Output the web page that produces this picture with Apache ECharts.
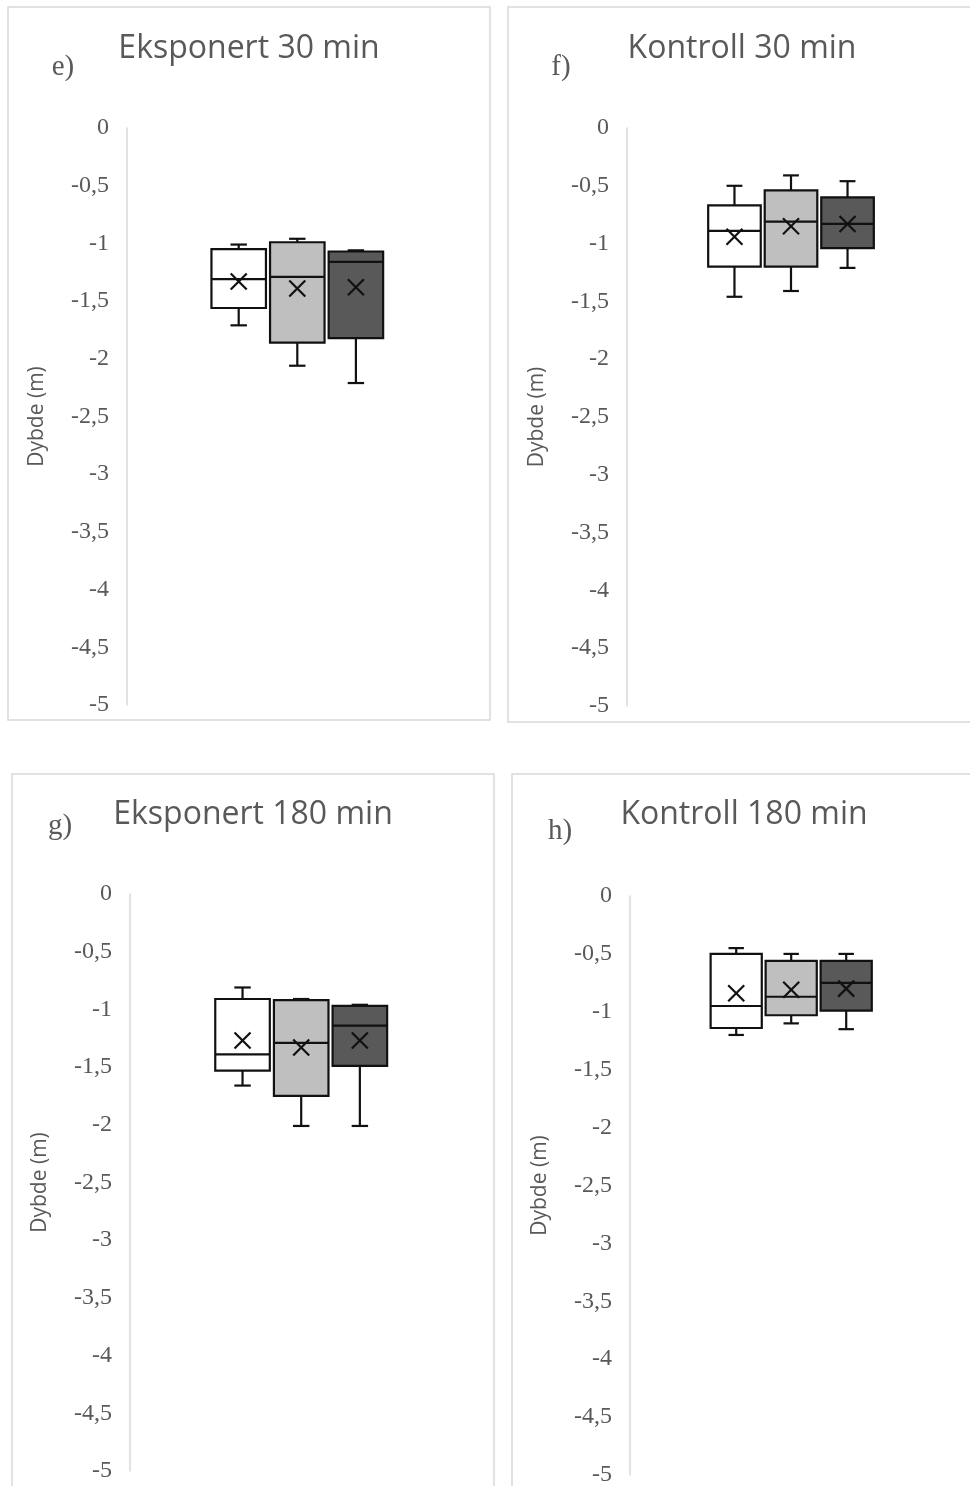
<!DOCTYPE html>
<html>
<head>
<meta charset="utf-8">
<script src="https://cdn.jsdelivr.net/npm/echarts@6/dist/echarts.min.js"></script>
<style>
  html, body { margin: 0; padding: 0; background: #ffffff; }
  #chart { width: 970px; height: 1486px; }
</style>
</head>
<body>
<div id="chart"></div>
<script>
// Three groups per panel, drawn left to right
const groups = ['Gruppe 1', 'Gruppe 2', 'Gruppe 3'];
const groupColors = ['#ffffff', '#bfbfbf', '#595959'];

// Each row: [lower whisker, Q1, median, Q3, upper whisker, mean] — depth in metres
const eksponert30 = [
  [-1.71, -1.56, -1.31, -1.05, -1.01, -1.33],
  [-2.06, -1.86, -1.29, -0.99, -0.96, -1.39],
  [-2.21, -1.82, -1.16, -1.07, -1.06, -1.38]
];
const kontroll30 = [
  [-1.46, -1.20, -0.89, -0.67, -0.50, -0.94],
  [-1.41, -1.20, -0.81, -0.54, -0.41, -0.85],
  [-1.21, -1.04, -0.83, -0.60, -0.46, -0.83]
];
const eksponert180 = [
  [-1.66, -1.53, -1.39, -0.91, -0.81, -1.27],
  [-2.01, -1.75, -1.29, -0.92, -0.91, -1.33],
  [-2.01, -1.49, -1.14, -0.97, -0.96, -1.27]
];
const kontroll180 = [
  [-1.20, -1.14, -0.95, -0.50, -0.45, -0.84],
  [-1.10, -1.03, -0.87, -0.56, -0.50, -0.81],
  [-1.15, -0.99, -0.75, -0.56, -0.50, -0.80]
];

// Depth axis ticks
const depthTicks = [0, -0.5, -1, -1.5, -2, -2.5, -3, -3.5, -4, -4.5, -5];

const panels = [
  { title: 'Eksponert 30 min', letter: 'e)', data: eksponert30,
    frame: [8, 7, 482, 713], titlePos: [249, 49], letterPos: [63, 67],
    grid: { left: 209.4, top: 128, width: 175.8, height: 577 }, axisX: 127 },
  { title: 'Kontroll 30 min', letter: 'f)', data: kontroll30,
    frame: [508, 7, 500, 715], titlePos: [742, 49], letterPos: [561, 67],
    grid: { left: 706.2, top: 128, width: 169.6, height: 578 }, axisX: 627 },
  { title: 'Eksponert 180 min', letter: 'g)', data: eksponert180,
    frame: [12, 774, 482, 760], titlePos: [253, 815], letterPos: [60, 826],
    grid: { left: 213.2, top: 894, width: 176, height: 577 }, axisX: 130 },
  { title: 'Kontroll 180 min', letter: 'h)', data: kontroll180,
    frame: [512, 774, 500, 760], titlePos: [744, 815], letterPos: [560, 831],
    grid: { left: 708.7, top: 896, width: 165, height: 579 }, axisX: 630 }
];

const ink = '#111111';
const textGrey = '#595959';

// Box, whiskers, median and mean cross for one group
function renderBox(params, api) {
  const i = api.value(0);
  const band = api.size([1, 0])[0];
  const half = band * 0.465;
  const cap = band * 0.14;
  const x = api.coord([i, 0])[0];
  const y = (dim) => api.coord([i, api.value(dim)])[1];
  const lo = y(1), q1 = y(2), med = y(3), q3 = y(4), hi = y(5), mean = y(6);
  const line = { stroke: ink, lineWidth: 2.2 };
  const m = 8;
  return {
    type: 'group',
    children: [
      { type: 'line', shape: { x1: x, y1: q1, x2: x, y2: lo }, style: line },
      { type: 'line', shape: { x1: x - cap, y1: lo, x2: x + cap, y2: lo }, style: line },
      { type: 'line', shape: { x1: x, y1: q3, x2: x, y2: hi }, style: line },
      { type: 'line', shape: { x1: x - cap, y1: hi, x2: x + cap, y2: hi }, style: line },
      { type: 'rect', shape: { x: x - half, y: q3, width: half * 2, height: q1 - q3 },
        style: { fill: groupColors[i], stroke: ink, lineWidth: 2.2 } },
      { type: 'line', shape: { x1: x - half, y1: med, x2: x + half, y2: med }, style: line },
      { type: 'line', shape: { x1: x - m, y1: mean - m, x2: x + m, y2: mean + m }, style: line },
      { type: 'line', shape: { x1: x - m, y1: mean + m, x2: x + m, y2: mean - m }, style: line }
    ]
  };
}

const grids = [], xAxes = [], yAxes = [], series = [], graphics = [];

panels.forEach((p, k) => {
  grids.push(Object.assign({ outerBoundsMode: 'none', containLabel: false }, p.grid));
  xAxes.push({
    type: 'category', gridIndex: k, data: groups, show: false
  });
  yAxes.push({
    type: 'value', gridIndex: k,
    min: Math.min(...depthTicks), max: Math.max(...depthTicks),
    interval: depthTicks[0] - depthTicks[1],
    offset: p.grid.left - p.axisX,
    axisLine: { show: true, lineStyle: { color: '#d9d9d9', width: 1.5 } },
    axisTick: { show: false },
    splitLine: { show: false },
    axisLabel: {
      margin: 18, color: textGrey, fontFamily: 'Liberation Serif', fontSize: 24,
      formatter: (v) => String(v).replace('.', ',')
    },
    name: 'Dybde (m)', nameLocation: 'middle', nameRotate: 90, nameGap: 79,
    nameTextStyle: { fontFamily: 'Open Sans', fontSize: 21, color: textGrey }
  });
  series.push({
    type: 'custom', xAxisIndex: k, yAxisIndex: k,
    data: p.data.map((row, i) => [i].concat(row)),
    encode: { x: 0, y: [1, 2, 3, 4, 5, 6] },
    renderItem: renderBox, silent: true
  });
  graphics.push({
    type: 'rect', silent: true,
    shape: { x: p.frame[0], y: p.frame[1], width: p.frame[2], height: p.frame[3] },
    style: { fill: 'none', stroke: '#d9d9d9', lineWidth: 1.5 }
  });
  graphics.push({
    type: 'text', silent: true, x: p.titlePos[0], y: p.titlePos[1],
    style: { text: p.title, fontFamily: 'Open Sans', fontSize: 32, fill: textGrey,
             align: 'center', verticalAlign: 'middle' }
  });
  graphics.push({
    type: 'text', silent: true, x: p.letterPos[0], y: p.letterPos[1],
    style: { text: p.letter, fontFamily: 'Liberation Serif', fontSize: 29, fill: textGrey,
             align: 'center', verticalAlign: 'middle' }
  });
});

const chart = echarts.init(document.getElementById('chart'), null, { renderer: 'canvas' });
chart.setOption({
  backgroundColor: '#ffffff',
  animation: false,
  grid: grids,
  xAxis: xAxes,
  yAxis: yAxes,
  series: series,
  graphic: { elements: graphics }
});
</script>
</body>
</html>
